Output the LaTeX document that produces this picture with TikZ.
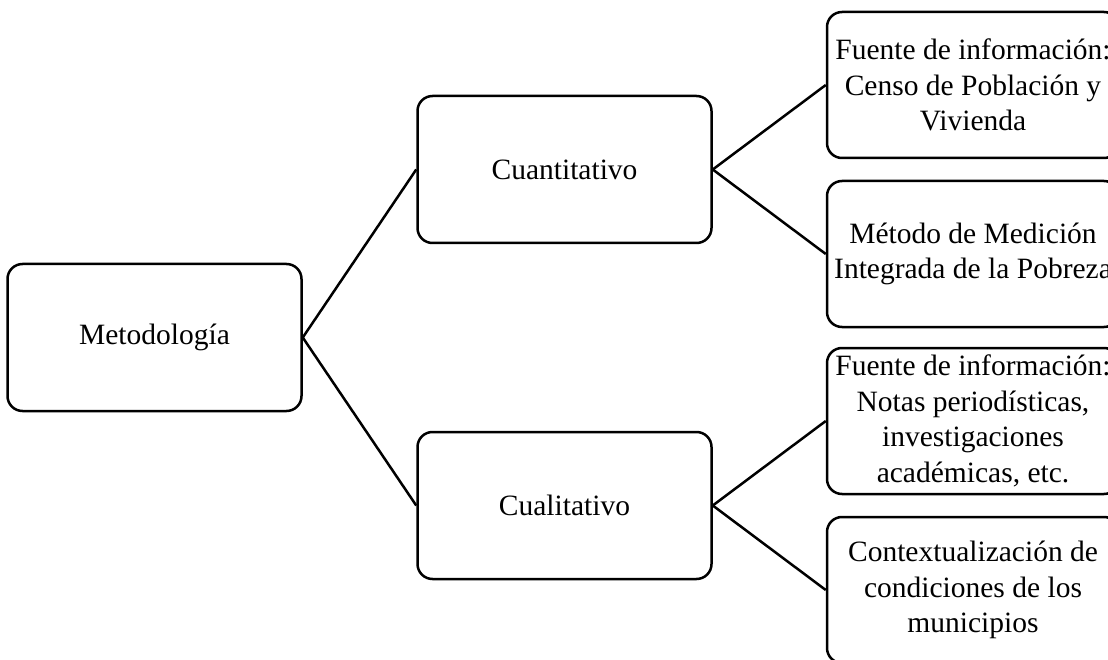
\documentclass[tikz,border=0pt]{standalone}
\usepackage{fontspec}
\setmainfont{Liberation Serif}
\begin{document}
\begin{tikzpicture}[x=1pt,y=-1pt,
  box/.style={draw=black, line width=2.5pt, rounded corners=15pt, align=center,
    inner sep=0pt, font=\fontsize{29.5}{35.5}\selectfont},
  mid/.style={box, minimum width=294pt, minimum height=147pt},
  leaf/.style={box, minimum width=292pt, minimum height=146pt},
  link/.style={line width=2.5pt}]
\clip (0,0) rectangle (1108,660);
\useasboundingbox (0,0) rectangle (1108,660);
\node[mid] (met) at (154.5,337.5) {Metodología};
\node[mid] (cuan) at (564.5,169.5) {Cuantitativo};
\node[mid] (cual) at (564.5,505.5) {Cualitativo};
\node[leaf] (r1) at (973,85) {Fuente de información:\\Censo de Población y\\Vivienda};
\node[leaf] (r2) at (973,254) {Método de Medición\\Integrada de la Pobreza};
\node[leaf] (r3) at (973,421) {Fuente de información:\\Notas periodísticas,\\investigaciones\\académicas, etc.};
\node[leaf] (r4) at (973,590) {Contextualización de\\condiciones de los\\municipios};
\draw[link] (met.east) -- (cuan.west);
\draw[link] (met.east) -- (cual.west);
\draw[link] (cuan.east) -- (r1.west);
\draw[link] (cuan.east) -- (r2.west);
\draw[link] (cual.east) -- (r3.west);
\draw[link] (cual.east) -- (r4.west);
\end{tikzpicture}
\end{document}
